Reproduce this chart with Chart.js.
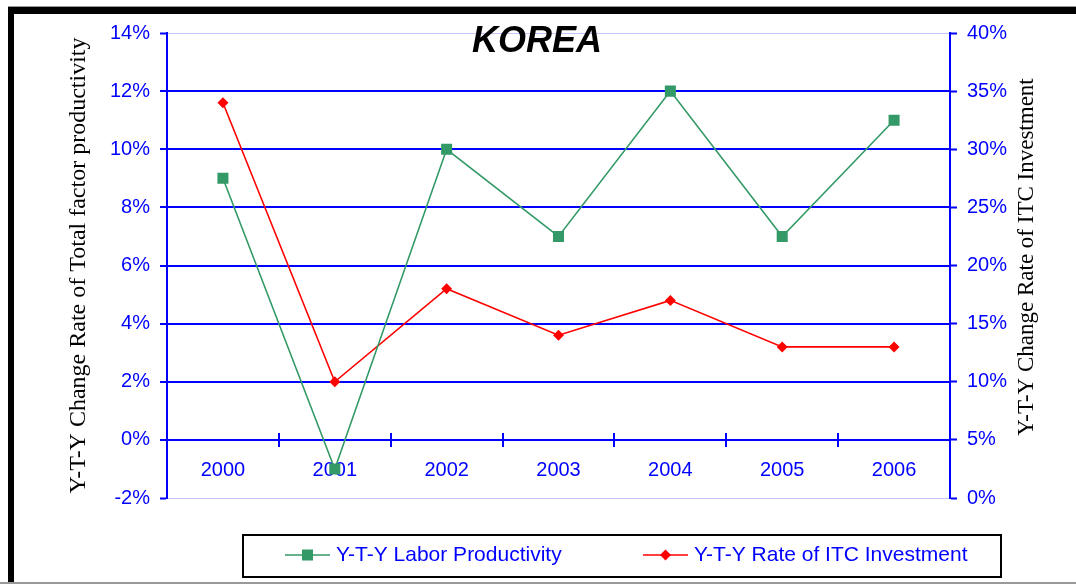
<!DOCTYPE html>
<html lang="en">
<head>
  <meta charset="utf-8">
  <title>KOREA</title>
  <script src="https://cdn.jsdelivr.net/npm/chart.js"></script>
  <style>
    body { margin: 0; background: #fff; }
    #wrap { position: relative; width: 1076px; height: 584px; overflow: hidden; }
    #wrap canvas { position: absolute; left: 0; top: 0; }
    .frame { position: absolute; }
    #frameTop { left: 8px; right: 0; top: 6px; height: 7px; background: #000; border-top: 1px solid #999; }
    #frameLeft { left: 8px; top: 7px; width: 6px; height: 576px; background: #000; }
    #frameBottom { left: 0; right: 0; top: 582px; height: 2px; background: #999; }
  </style>
</head>
<body>
  <div id="wrap">
    <div class="frame" id="frameTop"></div>
    <div class="frame" id="frameLeft"></div>
    <div class="frame" id="frameBottom"></div>
    <canvas id="koreaChart" width="1076" height="584"></canvas>
  </div>
<script>
  // data
  const years = ['2000', '2001', '2002', '2003', '2004', '2005', '2006'];
  const laborProductivity = [9, -1, 10, 7, 12, 7, 11];   // left axis, %
  const itcInvestment = [34, 10, 18, 14, 17, 13, 13];    // right axis, %
  const leftTicks = [-2, 0, 2, 4, 6, 8, 10, 12, 14];
  const rightTicks = [0, 5, 10, 15, 20, 25, 30, 35, 40];

  const chartTitle = 'KOREA';
  const leftTitle = 'Y-T-Y Change Rate of Total factor productivity';
  const rightTitle = 'Y-T-Y Change Rate of ITC Investment';

  const BLUE = '#0000ff';
  const GREEN = '#339966';
  const RED = '#ff0000';
  const SANS = "'Liberation Sans', Arial, sans-serif";
  const SERIF = "'Liberation Serif', 'Times New Roman', serif";

  // title, right axis title, category tick marks and the boxed legend
  const extras = {
    id: 'extras',
    afterDraw(chart) {
      const ctx = chart.ctx;
      const x = chart.scales.x;
      const y = chart.scales.y;
      const y0 = y.getPixelForValue(0);

      ctx.save();
      ctx.strokeStyle = BLUE;
      ctx.lineWidth = 2;
      for (let i = 1; i < years.length; i++) {
        const px = Math.round(x.getPixelForValue(i - 0.5));
        ctx.beginPath();
        ctx.moveTo(px, y0 - 7);
        ctx.lineTo(px, y0 + 7);
        ctx.stroke();
      }

      ctx.fillStyle = '#000';
      ctx.font = 'italic bold 36px ' + SANS;
      ctx.textAlign = 'center';
      ctx.textBaseline = 'middle';
      ctx.fillText(chartTitle, 537, 42);

      ctx.font = '23px ' + SERIF;
      ctx.translate(1027, 257);
      ctx.rotate(-Math.PI / 2);
      ctx.fillText(rightTitle, 0, 0);
      ctx.restore();

      // legend
      ctx.save();
      ctx.strokeStyle = '#000';
      ctx.lineWidth = 2;
      ctx.strokeRect(243, 535, 758, 42);
      const items = [[285, 0], [643, 1]];
      items.forEach(([lx, di]) => {
        const ds = chart.data.datasets[di];
        const ly = 555;
        ctx.strokeStyle = ds.borderColor;
        ctx.lineWidth = 1.5;
        ctx.beginPath();
        ctx.moveTo(lx, ly);
        ctx.lineTo(lx + 45, ly);
        ctx.stroke();
        ctx.fillStyle = ds.borderColor;
        const cx = lx + 22.5;
        if (ds.pointStyle === 'rect') {
          ctx.fillRect(cx - 5.5, ly - 5.5, 11, 11);
        } else {
          ctx.beginPath();
          ctx.moveTo(cx, ly - 5.5);
          ctx.lineTo(cx + 5.5, ly);
          ctx.lineTo(cx, ly + 5.5);
          ctx.lineTo(cx - 5.5, ly);
          ctx.closePath();
          ctx.fill();
        }
        ctx.fillStyle = BLUE;
        ctx.font = '21px ' + SANS;
        ctx.textAlign = 'left';
        ctx.textBaseline = 'middle';
        ctx.fillText(ds.label, lx + 51, ly);
      });
      ctx.restore();
    }
  };

  const edgeGrid = (c) => (c.tick && (c.tick.value === leftTicks[0] || c.tick.value === leftTicks[leftTicks.length - 1]));

  new Chart(document.getElementById('koreaChart'), {
    type: 'line',
    data: {
      labels: years,
      datasets: [
        {
          label: 'Y-T-Y Labor Productivity',
          data: laborProductivity,
          yAxisID: 'y',
          borderColor: GREEN,
          backgroundColor: GREEN,
          borderWidth: 1.6,
          pointStyle: 'rect',
          pointRadius: 7.8,
          pointHoverRadius: 7.8,
          pointBorderWidth: 0,
          tension: 0
        },
        {
          label: 'Y-T-Y Rate of ITC Investment',
          data: itcInvestment,
          yAxisID: 'y1',
          borderColor: RED,
          backgroundColor: RED,
          borderWidth: 1.6,
          pointStyle: 'rectRot',
          pointRadius: 5.5,
          pointHoverRadius: 5.5,
          pointBorderWidth: 0,
          tension: 0
        }
      ]
    },
    options: {
      responsive: false,
      animation: false,
      devicePixelRatio: 1,
      layout: { padding: { top: 33, bottom: 86, left: 0, right: 0 } },
      plugins: {
        legend: { display: false },
        title: { display: false },
        tooltip: { enabled: false }
      },
      scales: {
        x: {
          type: 'category',
          position: { y: 0 },
          offset: true,
          grid: { display: true, drawOnChartArea: false, drawTicks: false, offset: true },
          border: { display: true, color: BLUE, width: 2 },
          ticks: {
            color: BLUE,
            font: { family: SANS, size: 20 },
            padding: 19,
            maxRotation: 0
          }
        },
        y: {
          position: 'left',
          min: leftTicks[0],
          max: leftTicks[leftTicks.length - 1],
          afterBuildTicks: (s) => { s.ticks = leftTicks.map(v => ({ value: v })); },
          afterFit: (s) => { s.width = 167; },
          grid: {
            color: (c) => edgeGrid(c) ? '#c4c4ff' : BLUE,
            lineWidth: (c) => edgeGrid(c) ? 1 : 2,
            tickColor: BLUE,
            tickWidth: 2,
            tickLength: 7
          },
          border: { color: BLUE, width: 2 },
          ticks: {
            color: BLUE,
            font: { family: SANS, size: 20 },
            padding: 10,
            callback: (v) => v + '%'
          },
          title: {
            display: true,
            text: leftTitle,
            color: '#000',
            font: { family: SERIF, size: 24 },
            padding: { top: 64, bottom: 0 }
          }
        },
        y1: {
          position: 'right',
          min: rightTicks[0],
          max: rightTicks[rightTicks.length - 1],
          afterBuildTicks: (s) => { s.ticks = rightTicks.map(v => ({ value: v })); },
          afterFit: (s) => { s.width = 126; },
          grid: {
            drawOnChartArea: false,
            tickColor: BLUE,
            tickWidth: 2,
            tickLength: 7
          },
          border: { color: BLUE, width: 2 },
          ticks: {
            color: BLUE,
            font: { family: SANS, size: 20 },
            padding: 10,
            callback: (v) => v + '%'
          }
        }
      }
    },
    plugins: [extras]
  });
</script>
</body>
</html>
